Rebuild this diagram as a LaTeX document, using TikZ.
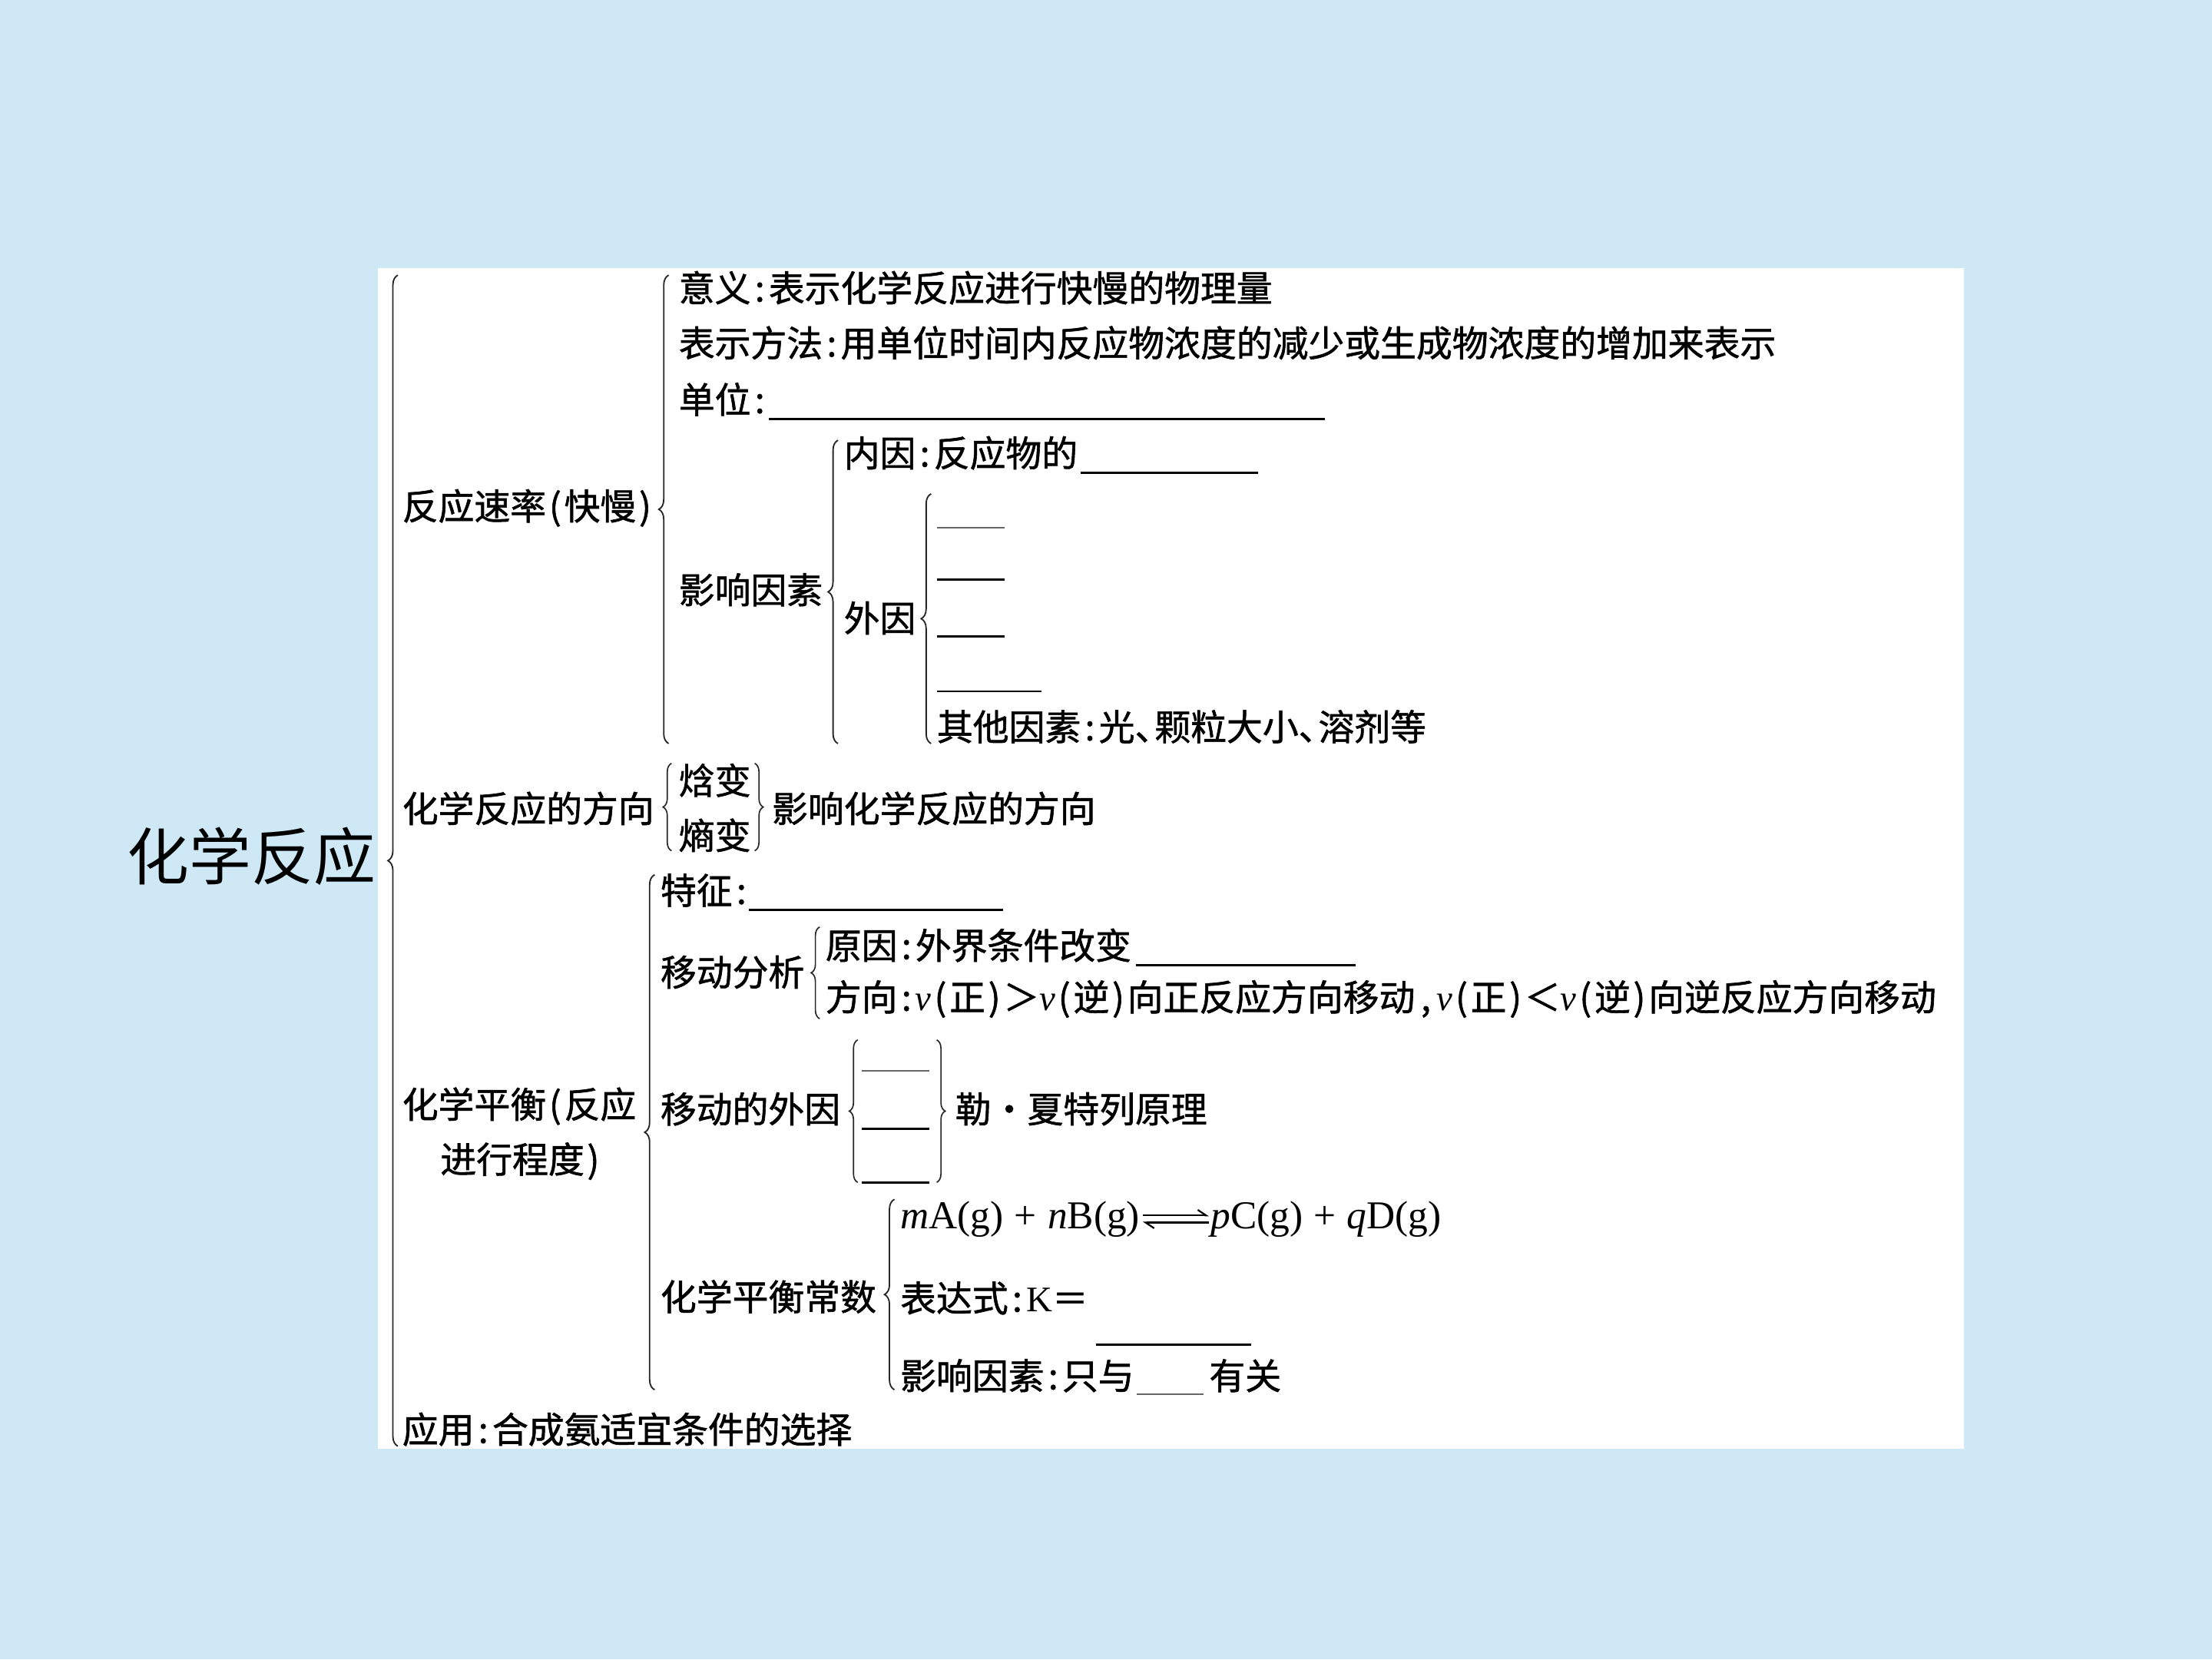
\documentclass[tikz,border=0pt]{standalone}
\usepackage{fontspec}
\setmainfont{Liberation Serif}
\newfontfamily\cjk{Noto Sans CJK SC}
\newfontfamily\cjkb{Noto Sans CJK SC}[FakeBold=1.2]
\usetikzlibrary{decorations.pathreplacing,arrows.meta}
\definecolor{bgblue}{RGB}{206,232,245}
\newcommand\cn{\makebox[0.5em][c]{:}}
\newcommand\lp{\makebox[0.5em][c]{(}}
\newcommand\rp{\makebox[0.5em][c]{)}}
\newcommand\dun{\makebox[0.55em][l]{、}}
\newcommand\dou{\makebox[0.6em][c]{,}}
\newcommand\vv{{\rmfamily\itshape v}}
\begin{document}
\begin{tikzpicture}[x=1pt,y=-1pt,
  txt/.style={anchor=west,inner sep=0pt,font=\cjkb\fontsize{25.5}{30}\selectfont},
  eqn/.style={anchor=west,inner sep=0pt,font=\rmfamily\fontsize{28}{30}\selectfont},
  ttl/.style={anchor=west,inner sep=0pt,font=\cjk\fontsize{44}{50}\selectfont},
  brc/.style={decorate,decoration={brace,amplitude=7pt},line width=1pt,black!85},
  sbrc/.style={decorate,decoration={brace,amplitude=6pt},line width=0.9pt,black!85},
  harp/.style={line width=1.2pt,-{Straight Barb[left,length=6pt,width=8pt]}},
  blank/.style={line width=1.6pt,black},
  tblank/.style={line width=1pt,black!60}]
\useasboundingbox (0,0) rectangle (1568,1176);
\fill[bgblue] (0,0) rectangle (1568,1176);
\fill[white] (268,190) rectangle (1392,1027);

% root
\node[ttl] (root) at (90,607) {化学反应};
\coordinate (ob1) at (282,1025); \coordinate (ob2) at (282,195);
\draw[brc] (ob1) -- (ob2);

% level 1
\node[txt] (rate) at (285,360) {反应速率\lp 快慢\rp};
\node[txt] (dir) at (285,573) {化学反应的方向};
\node[txt] (eq1) at (285,784) {化学平衡\lp 反应};
\node[txt] (eq2) at (312,823) {进行程度\rp};
\node[txt] (app) at (285,1013) {应用\cn 合成氨适宜条件的选择};

% rate branch
\coordinate (rb1) at (474,527); \coordinate (rb2) at (474,195);
\draw[brc] (rb1) -- (rb2);
\node[txt] (yiyi) at (481,204) {意义\cn 表示化学反应进行快慢的物理量};
\node[txt] (fangfa) at (481,243) {表示方法\cn 用单位时间内反应物浓度的减少或生成物浓度的增加来表示};
\node[txt] (danwei) at (481,283) {单位\cn};
\coordinate (dw1) at (545,297); \coordinate (dw2) at (939,297);
\draw[blank] (dw1) -- (dw2);
\node[txt] (yxys) at (481,418) {影响因素};
\coordinate (yb1) at (594,527); \coordinate (yb2) at (594,312);
\draw[brc] (yb1) -- (yb2);
\node[txt] (neiyin) at (598,321) {内因\cn 反应物的};
\coordinate (ny1) at (766,335); \coordinate (ny2) at (892,335);
\draw[blank] (ny1) -- (ny2);
\node[txt] (waiyin) at (598,438) {外因};
\coordinate (wb1) at (660,527); \coordinate (wb2) at (660,350);
\draw[brc] (wb1) -- (wb2);
\coordinate (w1a) at (664,374); \coordinate (w1b) at (712,374);
\coordinate (w2a) at (664,411); \coordinate (w2b) at (712,411);
\coordinate (w3a) at (664,451); \coordinate (w3b) at (712,451);
\coordinate (w4a) at (664,490); \coordinate (w4b) at (738,490);
\draw[tblank] (w1a) -- (w1b);
\draw[blank] (w2a) -- (w2b);
\draw[blank] (w3a) -- (w3b);
\draw[blank] (w4a) -- (w4b);
\node[txt] (qita) at (664,515) {其他因素\cn 光\dun 颗粒大小\dun 溶剂等};

% direction branch
\coordinate (db1) at (476,603); \coordinate (db2) at (476,541);
\draw[sbrc] (db1) -- (db2);
\node[txt] (hanbian) at (481,553) {焓变};
\node[txt] (shangbian) at (481,592) {熵变};
\coordinate (dr1) at (535,541); \coordinate (dr2) at (535,603);
\draw[sbrc] (dr1) -- (dr2);
\node[txt] (effect) at (547,573) {影响化学反应的方向};

% equilibrium branch
\coordinate (eb1) at (464,985); \coordinate (eb2) at (464,620);
\draw[brc] (eb1) -- (eb2);
\node[txt] (tezheng) at (468,631) {特征\cn};
\coordinate (tz1) at (531,645); \coordinate (tz2) at (711,645);
\draw[blank] (tz1) -- (tz2);
\node[txt] (yidong) at (468,689) {移动分析};
\coordinate (mb1) at (581,722); \coordinate (mb2) at (581,657);
\draw[sbrc] (mb1) -- (mb2);
\node[txt] (yuanyin) at (585,670) {原因\cn 外界条件改变};
\coordinate (yy1) at (805,684); \coordinate (yy2) at (961,684);
\draw[blank] (yy1) -- (yy2);
\node[txt] (fangxiang) at (585,708) {方向\cn\vv\lp 正\rp ＞\vv\lp 逆\rp 向正反应方向移动\dou\vv\lp 正\rp ＜\vv\lp 逆\rp 向逆反应方向移动};
\node[txt] (wai) at (468,786) {移动的外因};
\coordinate (lb1) at (608,838); \coordinate (lb2) at (608,737);
\draw[sbrc] (lb1) -- (lb2);
\coordinate (m1a) at (611,759); \coordinate (m1b) at (659,759);
\coordinate (m2a) at (611,800); \coordinate (m2b) at (659,800);
\coordinate (m3a) at (611,838); \coordinate (m3b) at (659,838);
\draw[tblank] (m1a) -- (m1b);
\draw[blank] (m2a) -- (m2b);
\draw[blank] (m3a) -- (m3b);
\coordinate (rb3) at (664,737); \coordinate (rb4) at (664,838);
\draw[sbrc] (rb3) -- (rb4);
\node[txt] (lxl) at (677,786) {勒・夏特列原理};
\node[txt] (const) at (468,919) {化学平衡常数};
\coordinate (cb1) at (634,985); \coordinate (cb2) at (634,850);
\draw[brc] (cb1) -- (cb2);
\node[eqn] (rxnL) at (638,864) {\textit{m}A(g)\;+\;\textit{n}B(g)};
\node[eqn] (rxnR) at (858,864) {\textit{p}C(g)\;+\;\textit{q}D(g)};
\draw[harp] ([xshift=2pt,yshift=2.5pt]rxnL.east) -- ([xshift=-1pt,yshift=2.5pt]rxnR.west);
\draw[harp] ([xshift=-1pt,yshift=-2.5pt]rxnR.west) -- ([xshift=2pt,yshift=-2.5pt]rxnL.east);
\node[txt] (expr) at (638,920) {表达式\cn{\rmfamily K}＝};
\coordinate (k1) at (777,953); \coordinate (k2) at (887,953);
\draw[blank] (k1) -- (k2);
\node[txt] (yx2) at (638,975) {影响因素\cn 只与};
\coordinate (zy1) at (806,988); \coordinate (zy2) at (853,988);
\draw[tblank] (zy1) -- (zy2);
\node[txt] (yg) at (857,975) {有关};
\end{tikzpicture}
\end{document}
